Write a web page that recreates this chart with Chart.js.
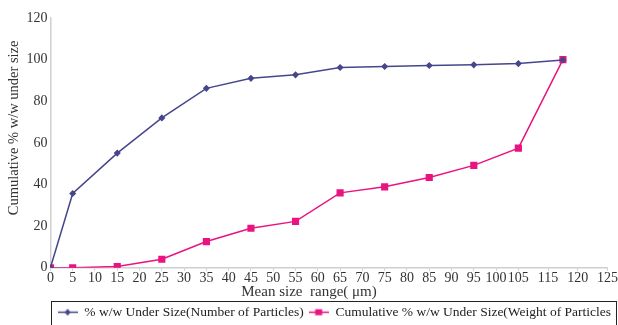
<!DOCTYPE html>
<html>
<head>
<meta charset="utf-8">
<script src="https://cdn.jsdelivr.net/npm/chart.js@4.4.0/dist/chart.umd.min.js"></script>
<style>
  html, body { margin: 0; padding: 0; background: #fff; }
  #wrap { width: 618px; height: 325px; position: relative; }
</style>
</head>
<body>
<div id="wrap"><canvas id="myChart" width="618" height="325"></canvas></div>
<script>
// mean size (um) of each point
const sizes = [0, 5, 15, 25, 35, 45, 55, 65, 75, 85, 95, 105, 115];
// % w/w under size by number of particles
const numberPct = [0, 35.7, 55.1, 72.0, 86.2, 91.0, 92.7, 96.2, 96.7, 97.2, 97.5, 98.1, 99.8];
// cumulative % w/w under size by weight of particles
const weightPct = [0, 0, 0.6, 4.1, 12.6, 19.0, 22.3, 36.0, 38.9, 43.4, 49.2, 57.5, 100];
// x tick labels as printed (no 110)
const xTicks = [0, 5, 10, 15, 20, 25, 30, 35, 40, 45, 50, 55, 60, 65, 70, 75, 80, 85, 90, 95, 100, 105, 115, 120, 125];
const yTicks = [0, 20, 40, 60, 80, 100, 120];

const seriesNames = ['% w/w Under Size(Number of Particles)', 'Cumulative % w/w Under Size(Weight of Particles'];
const xTitle = 'Mean size  range( \u03bcm)';
const yTitle = 'Cumulative % w/w under size';
const blue = '#46468c';
const pink = '#ea1380';
const serif = "'Liberation Serif', 'DejaVu Serif', serif";

// the printed axis spreads its last labels evenly after 105
function tickPositions(labels) {
  const out = [];
  const k = labels.indexOf(105);
  const last = labels[labels.length - 1];
  const n = labels.length - 1 - k;
  labels.forEach((v, i) => {
    if (i <= k) out.push({value: v, label: String(v)});
    else out.push({value: 105 + (last - 105) * (i - k) / n, label: String(v)});
  });
  return out;
}

function legendIcon(color, style) {
  const c = document.createElement('canvas');
  c.width = 20; c.height = 9;
  const g = c.getContext('2d');
  g.strokeStyle = color; g.lineWidth = 1.5;
  g.beginPath(); g.moveTo(0, 4.5); g.lineTo(20, 4.5); g.stroke();
  g.fillStyle = color;
  if (style === 'rect') {
    g.fillRect(6.5, 1.5, 7, 6);
  } else {
    g.beginPath(); g.moveTo(10, 1); g.lineTo(13, 4.5); g.lineTo(10, 8); g.lineTo(7, 4.5); g.closePath(); g.fill();
  }
  return c;
}

// legend frame + axis titles placed like the printed figure
const extras = {
  id: 'extras',
  afterDraw(chart) {
    const c = chart.ctx;
    const lg = chart.legend;
    c.save();
    if (lg && lg.legendHitBoxes.length) {
      const hb = lg.legendHitBoxes;
      const x0 = hb[0].left - 7;
      const x1 = hb[hb.length - 1].left + hb[hb.length - 1].width + 5;
      c.strokeStyle = '#222';
      c.lineWidth = 1;
      c.strokeRect(Math.round(x0) + 0.5, Math.round(lg.top) + 0.5, Math.round(x1 - x0), 40);
    }
    c.fillStyle = '#333';
    c.textAlign = 'center';
    c.textBaseline = 'middle';
    c.font = '15px ' + serif;
    c.fillText(xTitle, chart.width / 2, chart.scales.x.bottom - 8);
    const ya = chart.scales.y;
    c.translate(ya.left + 8, (chart.chartArea.top + chart.chartArea.bottom) / 2 - 15);
    c.rotate(-Math.PI / 2);
    c.font = '14.5px ' + serif;
    c.fillText(yTitle, 0, 0);
    c.restore();
  }
};

const ctx = document.getElementById('myChart');
new Chart(ctx, {
  type: 'line',
  data: {
    datasets: [{
      label: seriesNames[0],
      data: sizes.map((s, i) => ({x: s, y: numberPct[i]})),
      borderColor: blue,
      backgroundColor: blue,
      borderWidth: 1.5,
      pointStyle: 'rectRot',
      pointRadius: 2.5,
      pointHoverRadius: 2.5,
      tension: 0
    }, {
      label: seriesNames[1],
      data: sizes.map((s, i) => ({x: s, y: weightPct[i]})),
      borderColor: pink,
      backgroundColor: pink,
      borderWidth: 1.5,
      pointStyle: 'rect',
      pointRadius: 4,
      pointHoverRadius: 4,
      tension: 0
    }]
  },
  options: {
    responsive: false,
    animation: false,
    layout: { padding: { top: 18, right: 2, left: 6, bottom: -4 } },
    scales: {
      x: {
        type: 'linear',
        min: 0,
        max: 125,
        afterBuildTicks: (scale) => { scale.ticks = tickPositions(xTicks).map(t => ({value: t.value, label: t.label})); },
        grid: { display: true, drawOnChartArea: false, color: '#cfcfcf', tickLength: 3 },
        border: { color: '#cfcfcf', width: 1.5 },
        ticks: { autoSkip: false, maxRotation: 0, minRotation: 0, padding: 0, color: '#333',
                 callback: function (v, i, ticks) { return ticks[i].label; },
                 font: { family: serif, size: 14, lineHeight: 1.05 } },
        // space kept for the title, which the plugin draws
        title: { display: true, text: xTitle, color: 'rgba(0,0,0,0)', padding: { top: 0, bottom: 0 },
                 font: { family: serif, size: 15, lineHeight: 1.0 } }
      },
      y: {
        min: 0,
        max: 120,
        afterBuildTicks: (scale) => { scale.ticks = yTicks.map(v => ({value: v})); },
        grid: { display: true, drawOnChartArea: false, color: '#cfcfcf', tickLength: 0 },
        border: { color: '#cfcfcf', width: 1.5 },
        ticks: { padding: 3, color: '#333', font: { family: serif, size: 14 } },
        title: { display: true, text: yTitle, color: 'rgba(0,0,0,0)', padding: { top: 0, bottom: 0 },
                 font: { family: serif, size: 14.5 } }
      }
    },
    plugins: {
      tooltip: { enabled: false },
      legend: {
        position: 'bottom',
        align: 'end',
        labels: {
          color: '#222',
          font: { family: serif, size: 13.5 },
          usePointStyle: true,
          pointStyleWidth: 20,
          padding: 5,
          generateLabels: (chart) => chart.data.datasets.map((ds, i) => ({
            text: ds.label,
            datasetIndex: i,
            pointStyle: legendIcon(ds.borderColor, ds.pointStyle === 'rect' ? 'rect' : 'diamond'),
            fillStyle: ds.borderColor,
            strokeStyle: ds.borderColor,
            lineWidth: 0,
            fontColor: '#222'
          }))
        }
      }
    }
  },
  plugins: [extras]
});
</script>
</body>
</html>
